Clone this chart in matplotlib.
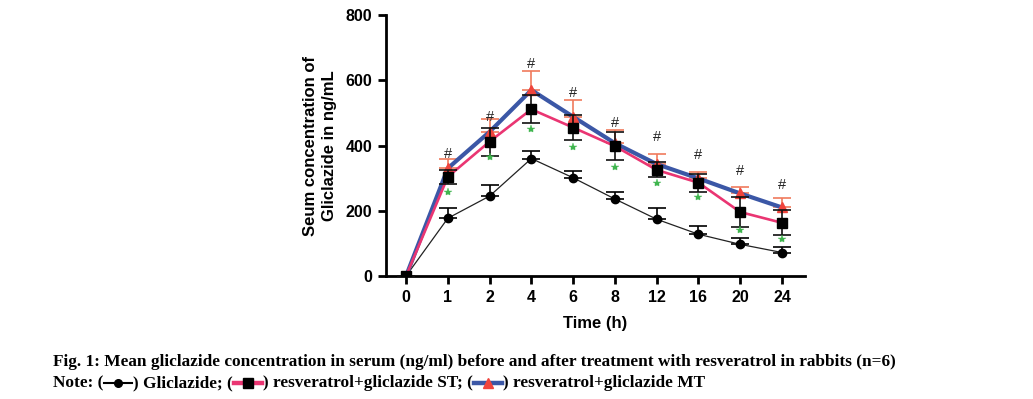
import matplotlib
matplotlib.use("Agg")
import matplotlib.pyplot as plt
from matplotlib.lines import Line2D
import numpy as np

# ---- data ----
time_labels = ["0", "1", "2", "4", "6", "8", "12", "16", "20", "24"]
glic_mean = [0, 177, 245, 360, 301, 236, 174, 128, 97, 72]
glic_err = [0, 30, 34, 24, 22, 20, 33, 26, 18, 16]
st_mean = [0, 304, 412, 511, 455, 398, 325, 286, 196, 163]
st_err = [0, 22, 43, 43, 38, 42, 23, 28, 46, 38]
mt_mean = [0, 330, 442, 570, 488, 407, 343, 299, 253, 210]
mt_err = [0, 30, 40, 59, 51, 42, 30, 19, 20, 29]
hash_y = [None, 374, 488, 650, 562, 470, 427, 371, 323, 279]
star_y = [None, 256, 366, 452, 396, 335, 286, 243, 141, 112]

caption1 = ("Fig. 1: Mean gliclazide concentration in serum (ng/ml) before and after "
            "treatment with resveratrol in rabbits (n=6)")
caption2_parts = ["Note: (", ") Gliclazide; (", ") resveratrol+gliclazide ST; (",
                  ") resveratrol+gliclazide MT"]

BLUE = "#3b57a6"
PINK = "#ea3572"
RED = "#f0443c"
SALMON = "#f07a5c"
GREEN = "#3fb54e"

W, H = 1033, 399
fig = plt.figure(figsize=(W / 100, H / 100), dpi=100)
ax = fig.add_axes([386 / W, 1 - 276 / H, (805 - 386) / W, (276 - 15) / H])

x = np.arange(len(time_labels))
sans = ["Liberation Sans", "DejaVu Sans"]
cap = 6.5

# Gliclazide
ax.errorbar(x, glic_mean, yerr=[np.zeros(len(x)), glic_err], fmt="none",
            ecolor="black", elinewidth=1.2, capsize=cap, capthick=1.2, zorder=2)
ax.plot(x, glic_mean, color="#222222", lw=0.9, marker="o", ms=6,
        mfc="black", mec="black", zorder=3)

# MT
ax.errorbar(x, mt_mean, yerr=[np.zeros(len(x)), mt_err], fmt="none",
            ecolor=SALMON, elinewidth=1.2, capsize=cap, capthick=1.2, zorder=2)
ax.plot(x, mt_mean, color=BLUE, lw=3.0, zorder=4, solid_capstyle="round")
# ST
ax.plot(x, st_mean, color=PINK, lw=1.9, zorder=5)
ax.plot(x[1:], mt_mean[1:], ls="none", marker="^", ms=6.5, mfc=RED, mec=RED, zorder=6)
ax.errorbar(x, st_mean, yerr=st_err, fmt="none", ecolor="#111111",
            elinewidth=1.2, capsize=cap, capthick=1.2, zorder=7)
ax.plot(x, st_mean, ls="none", marker="s", ms=6.5, mfc="black", mec="black", zorder=8)

for xi, hy in zip(x, hash_y):
    if hy is not None:
        ax.text(xi, hy, "#", ha="center", va="center", fontsize=10.5,
                color="#222222", family=sans, zorder=9)
sx = [xi for xi, sy in zip(x, star_y) if sy is not None]
sy = [s for s in star_y if s is not None]
ax.plot(sx, sy, ls="none", marker="*", ms=6, mfc=GREEN, mec=GREEN, mew=0.3, zorder=9)

ax.set_xlim(-0.48, 9.55)
ax.set_ylim(0, 800)
ax.set_xticks(x)
ax.set_xticklabels(time_labels)
ax.set_yticks([0, 200, 400, 600, 800])
for s in ["top", "right"]:
    ax.spines[s].set_visible(False)
for s in ["left", "bottom"]:
    ax.spines[s].set_linewidth(2.0)
ax.tick_params(axis="both", direction="out", length=6, width=2.0,
               labelsize=11.5, pad=4)
for lab in ax.get_xticklabels() + ax.get_yticklabels():
    lab.set_fontweight("bold")
    lab.set_family(sans)
ax.set_xlabel("Time (h)", fontsize=12, fontweight="bold", family=sans, labelpad=8)
ax.set_ylabel("Seum concentration of\nGliclazide in ng/mL", fontsize=12,
              fontweight="bold", family=sans, labelpad=6, linespacing=1.3)

# ---- caption ----
serif = ["Liberation Serif", "DejaVu Serif"]
cap_fs = 12.4
fig.text(53 / W, 1 - 362 / H, caption1, fontsize=cap_fs, fontweight="bold",
         family=serif, va="center", ha="left")

fig.canvas.draw()
renderer = fig.canvas.get_renderer()
handle_w = 28
styles = [
    dict(color="black", lw=1.5, marker="o", ms=5.5),
    dict(color=PINK, lw=3.2, marker="s", ms=6.5, mfc="black", mec="black"),
    dict(color=BLUE, lw=3.2, marker="^", ms=6.5, mfc=RED, mec=RED),
]
cur = 53
yc = 383
for i, part in enumerate(caption2_parts):
    t = fig.text(cur / W, 1 - yc / H, part, fontsize=cap_fs, fontweight="bold",
                 family=serif, va="center", ha="left")
    bb = t.get_window_extent(renderer)
    cur = bb.x1
    if i < len(styles):
        st = styles[i]
        x0, x1 = cur + 1, cur + 1 + handle_w
        fig.add_artist(Line2D([x0 / W, x1 / W], [1 - yc / H, 1 - yc / H],
                              transform=fig.transFigure, color=st["color"], lw=st["lw"]))
        fig.add_artist(Line2D([(x0 + x1) / 2 / W], [1 - yc / H], transform=fig.transFigure,
                              ls="none", marker=st["marker"], ms=st["ms"],
                              mfc=st.get("mfc", st["color"]), mec=st.get("mec", st["color"])))
        cur = x1 + 1

fig.savefig("out.png", dpi=100)
